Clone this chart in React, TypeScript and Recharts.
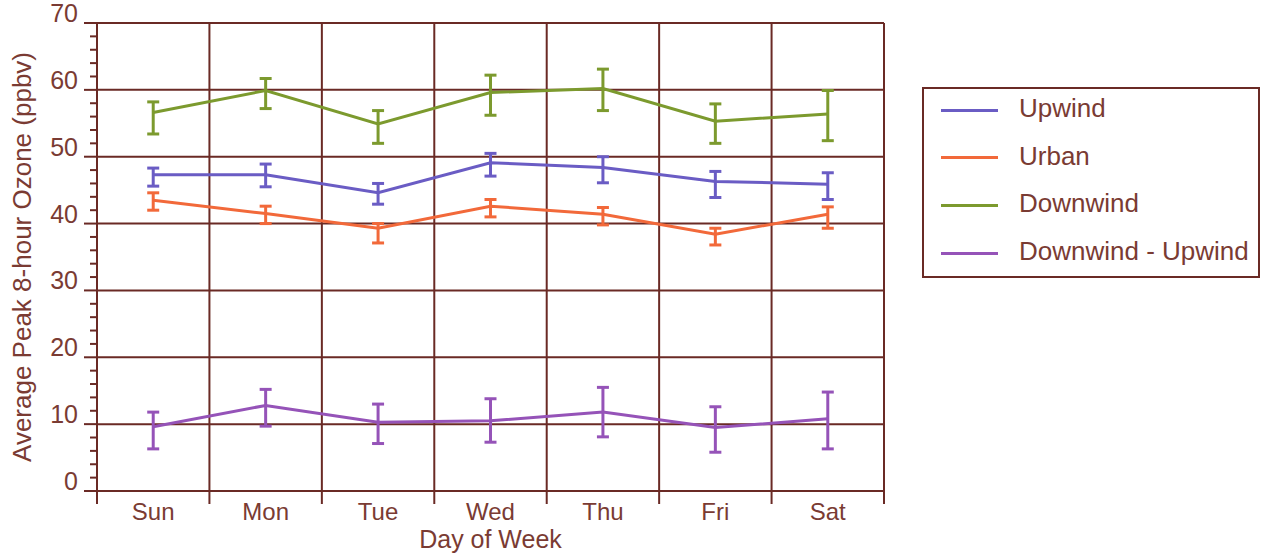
import {
  LineChart,
  Line,
  XAxis,
  YAxis,
  ReferenceLine,
  ErrorBar,
  Legend,
} from "recharts";

// 星期
const DAYS = ["Sun", "Mon", "Tue", "Wed", "Thu", "Fri", "Sat"];

// 系列名（图例顺序）
const SERIES = ["Upwind", "Urban", "Downwind", "Downwind - Upwind"];

// 平均值 (ppbv)
const UPWIND = [47.3, 47.3, 44.6, 49.1, 48.4, 46.3, 45.9];
const URBAN = [43.5, 41.5, 39.3, 42.6, 41.4, 38.4, 41.4];
const DOWNWIND = [56.6, 59.9, 54.9, 59.6, 60.2, 55.3, 56.4];
const DIFF = [9.6, 12.8, 10.3, 10.5, 11.8, 9.5, 10.8];

// 误差 [下, 上]
const UPWIND_ERR = [[1.7, 1.0], [1.8, 1.6], [1.7, 1.4], [2.0, 1.4], [2.3, 1.6], [2.4, 1.5], [2.3, 1.7]];
const URBAN_ERR = [[1.5, 1.1], [1.5, 1.1], [2.2, 0.7], [1.6, 1.0], [1.6, 1.0], [1.6, 0.9], [2.1, 1.1]];
const DOWNWIND_ERR = [[3.2, 1.6], [2.7, 1.8], [2.9, 2.0], [3.4, 2.6], [3.3, 2.9], [3.3, 2.6], [4.0, 3.5]];
const DIFF_ERR = [[3.3, 2.2], [3.1, 2.4], [3.2, 2.7], [3.2, 3.3], [3.7, 3.7], [3.7, 3.1], [4.5, 4.0]];

const Y_TICKS = Array.from({ length: 36 }, (_, i) => i * 2);
const Y_GRID = [10, 20, 30, 40, 50, 60, 70];

const GRID = "#6a2a25";
const TEXT = "#7a3b33";
const FONT = "'Liberation Sans', Arial, sans-serif";

const C_UP = "#6a5cc4";
const C_URB = "#f2693a";
const C_DOWN = "#7c9a2e";
const C_DIFF = "#9553b8";

const data = DAYS.map((day, i) => ({
  day,
  idx: i,
  upwind: UPWIND[i],
  upwindErr: UPWIND_ERR[i],
  urban: URBAN[i],
  urbanErr: URBAN_ERR[i],
  downwind: DOWNWIND[i],
  downwindErr: DOWNWIND_ERR[i],
  diff: DIFF[i],
  diffErr: DIFF_ERR[i],
}));

// x轴刻度：整数处写星期，半格处画向下延伸的分隔线
const xTicks: number[] = [];
for (let i = -0.5; i <= 6.5; i += 0.5) xTicks.push(i);
const xBounds = xTicks.filter((t) => !Number.isInteger(t) && t > -0.5);

function XTick(props: any) {
  const { x, y, payload } = props;
  const v = payload.value;
  if (!Number.isInteger(v)) {
    return <line x1={x} x2={x} y1={y} y2={y + 13} stroke={GRID} strokeWidth={2} />;
  }
  return (
    <text x={x} y={y} dy={29} textAnchor="middle" fill={TEXT} fontSize={24} fontFamily={FONT}>
      {DAYS[v]}
    </text>
  );
}

function YTick(props: any) {
  const { x, y, payload } = props;
  const v = payload.value;
  const major = v % 10 === 0;
  return (
    <g>
      <line x1={x - (major ? 13 : 7)} x2={x} y1={y} y2={y} stroke={GRID} strokeWidth={2} />
      {major && (
        <text x={x - 19} y={y} dy={-1} textAnchor="end" fill={TEXT} fontSize={25} fontFamily={FONT}>
          {v}
        </text>
      )}
    </g>
  );
}

function LegendBox(props: any) {
  const items = [...(props.payload || [])].sort(
    (a: any, b: any) => SERIES.indexOf(a.value) - SERIES.indexOf(b.value)
  );
  return (
    <div
      style={{
        width: 334,
        height: 187,
        border: `2px solid ${GRID}`,
        position: "relative",
        fontFamily: FONT,
        fontSize: 26,
        color: TEXT,
      }}
    >
      {items.map((p: any, i: number) => (
        <div
          key={p.value}
          style={{ position: "absolute", left: 0, top: 21 + i * 47.7, height: 0, width: "100%" }}
        >
          <div
            style={{
              position: "absolute",
              left: 17,
              top: -1.5,
              width: 57,
              height: 3,
              background: p.color,
            }}
          />
          <div style={{ position: "absolute", left: 95, top: -17, lineHeight: "30px", whiteSpace: "nowrap" }}>
            {p.value}
          </div>
        </div>
      ))}
    </div>
  );
}

export default function App() {
  return (
    <div style={{ position: "absolute", left: 0, top: 0, background: "#fff" }}>
      <LineChart
        width={1262}
        height={556}
        data={data}
        margin={{ top: 23, right: 378, bottom: 0, left: 0 }}
      >
        <XAxis
          type="number"
          dataKey="idx"
          domain={[-0.5, 6.5]}
          ticks={xTicks}
          interval={0}
          tickLine={false}
          tickSize={0}
          tickMargin={0}
          height={65}
          axisLine={{ stroke: GRID, strokeWidth: 2 }}
          tick={XTick}
          label={{
            value: "Day of Week",
            position: "insideBottom",
            offset: 8,
            fill: TEXT,
            fontSize: 25,
            fontFamily: FONT,
          }}
        />
        <YAxis
          type="number"
          domain={[0, 70]}
          ticks={Y_TICKS}
          interval={0}
          width={97}
          tickLine={false}
          tickSize={0}
          tickMargin={0}
          axisLine={{ stroke: GRID, strokeWidth: 2 }}
          tick={YTick}
          label={{
            value: "Average Peak 8-hour Ozone (ppbv)",
            angle: -90,
            position: "insideLeft",
            offset: 22,
            fill: TEXT,
            fontSize: 26,
            fontFamily: FONT,
            style: { textAnchor: "middle" },
          }}
        />
        {Y_GRID.map((v) => (
          <ReferenceLine key={`h${v}`} y={v} stroke={GRID} strokeWidth={2} />
        ))}
        {xBounds.map((v) => (
          <ReferenceLine key={`v${v}`} x={v} stroke={GRID} strokeWidth={2} />
        ))}
        <Legend
          layout="horizontal"
          verticalAlign="middle"
          align="center"
          wrapperStyle={{ left: 922, top: 87, width: 338 }}
          content={LegendBox}
        />
        <Line name="Upwind" dataKey="upwind" stroke={C_UP} strokeWidth={3} dot={false} isAnimationActive={false}>
          <ErrorBar dataKey="upwindErr" direction="y" width={6} stroke={C_UP} strokeWidth={3} />
        </Line>
        <Line name="Urban" dataKey="urban" stroke={C_URB} strokeWidth={3} dot={false} isAnimationActive={false}>
          <ErrorBar dataKey="urbanErr" direction="y" width={6} stroke={C_URB} strokeWidth={3} />
        </Line>
        <Line name="Downwind" dataKey="downwind" stroke={C_DOWN} strokeWidth={3} dot={false} isAnimationActive={false}>
          <ErrorBar dataKey="downwindErr" direction="y" width={6} stroke={C_DOWN} strokeWidth={3} />
        </Line>
        <Line name="Downwind - Upwind" dataKey="diff" stroke={C_DIFF} strokeWidth={3} dot={false} isAnimationActive={false}>
          <ErrorBar dataKey="diffErr" direction="y" width={6} stroke={C_DIFF} strokeWidth={3} />
        </Line>
      </LineChart>
    </div>
  );
}
